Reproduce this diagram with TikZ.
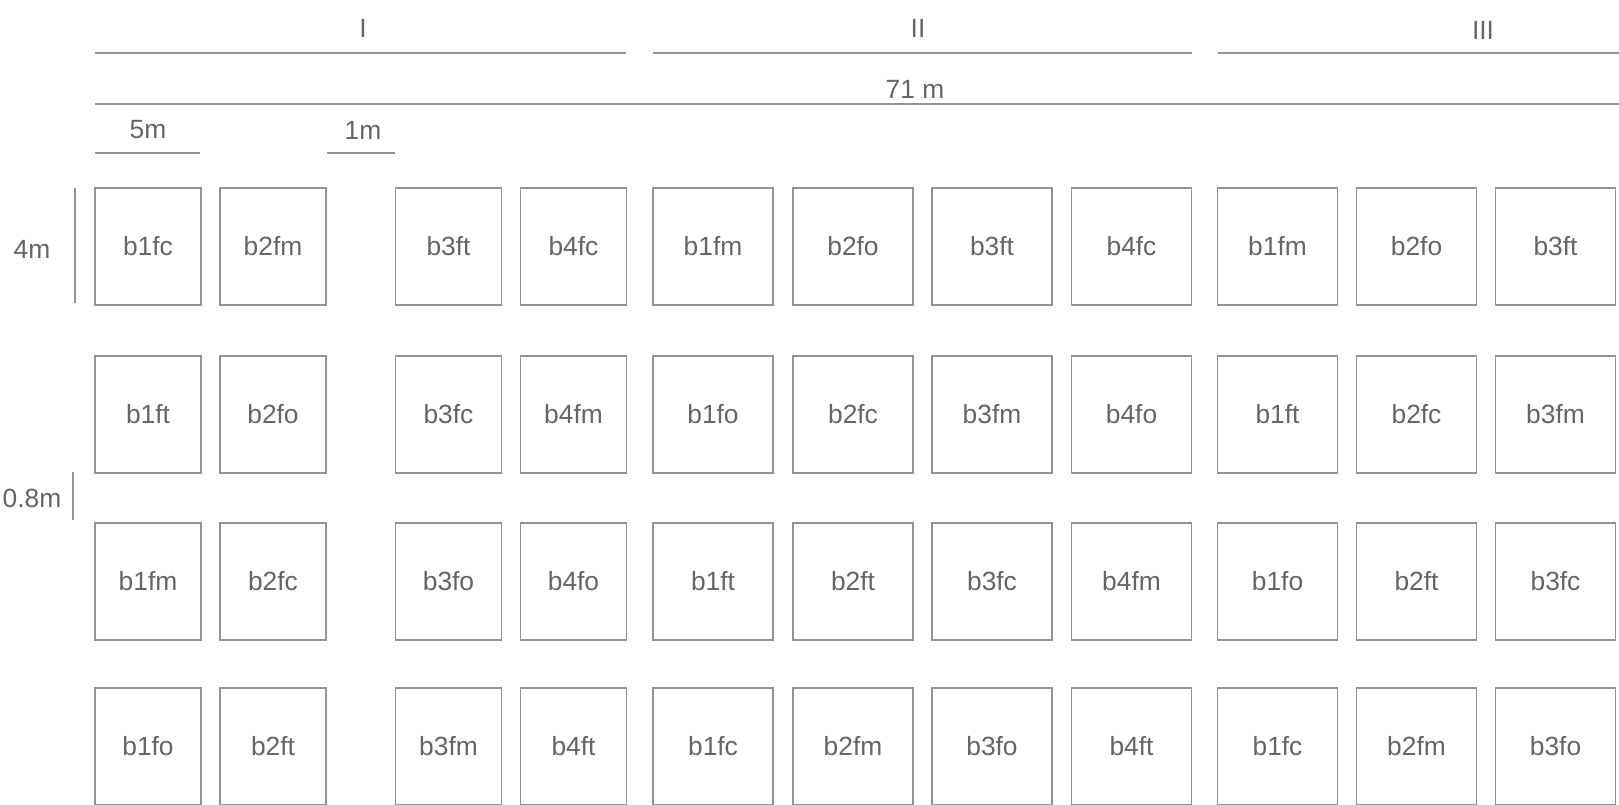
\documentclass[tikz,border=0pt]{standalone}
\usepackage{fontspec}
\setmainfont{Liberation Sans}
\usepackage{xcolor}
\usepackage{tikz}
\definecolor{plotgrey}{HTML}{939393}
\definecolor{labelgrey}{HTML}{656565}

\tikzset{
  plot/.style={draw=plotgrey, line width=0.3pt, minimum height=1.17cm, inner sep=0pt, text=labelgrey},
  mass/.style={text=labelgrey, inner sep=1pt}
}

\begin{document}
\begin{tikzpicture}[font=\fontsize{7.5}{9}\selectfont, line width=0.3pt]
  \useasboundingbox (0,0) rectangle (16.19,-8.04);

  % Bloecke I, II, III
  \draw[plotgrey] (0.95,-0.53) -- (6.26,-0.53);
  \draw[plotgrey] (6.53,-0.53) -- (11.92,-0.53);
  \draw[plotgrey] (12.18,-0.53) -- (16.19,-0.53);
  \node[mass] (blockI) at (3.63,-0.28) {I};
  \node[mass] (blockII) at (9.18,-0.28) {II};
  \node[mass] (blockIII) at (14.83,-0.30) {III};

  % Gesamtlaenge
  \draw[plotgrey] (0.95,-1.04) -- (16.19,-1.04);
  \node[mass] (total) at (9.15,-0.89) {71 m};

  % Parzellenbreite und Abstand
  \node[mass] (breite) at (1.48,-1.30) {5m};
  \draw[plotgrey] (0.95,-1.53) -- (2.00,-1.53);
  \node[mass] (abstand) at (3.63,-1.30) {1m};
  \draw[plotgrey] (3.27,-1.53) -- (3.95,-1.53);

  % Parzellenlaenge und Weg
  \draw[plotgrey] (0.75,-1.88) -- (0.75,-3.03);
  \node[mass] (laenge) at (0.32,-2.49) {4m};
  \draw[plotgrey] (0.73,-4.72) -- (0.73,-5.20);
  \node[mass] (weg) at (0.32,-4.98) {0.8m};

  % Spalten und Reihen
  \foreach \i/\cx in {1/1.48, 2/2.73, 3/4.485, 4/5.735, 5/7.13, 6/8.53,
                      7/9.92, 8/11.315, 9/12.775, 10/14.165, 11/15.555}
    \coordinate (c\i) at (\cx,0);
  \foreach \r/\cy in {1/-2.465, 2/-4.145, 3/-5.815, 4/-7.465}
    \coordinate (r\r) at (0,\cy);

  % Parzellen, Reihe 1
  \foreach \i/\t in {1/b1fc, 2/b2fm, 3/b3ft, 4/b4fc, 5/b1fm, 6/b2fo,
                     7/b3ft, 8/b4fc, 9/b1fm, 10/b2fo, 11/b3ft} {
    \pgfmathsetmacro\w{\i<5 ? 1.06 : 1.2}
    \node[plot, minimum width=\w cm] (p1-\i) at (c\i |- r1) {\t};
  }
  % Reihe 2
  \foreach \i/\t in {1/b1ft, 2/b2fo, 3/b3fc, 4/b4fm, 5/b1fo, 6/b2fc,
                     7/b3fm, 8/b4fo, 9/b1ft, 10/b2fc, 11/b3fm} {
    \pgfmathsetmacro\w{\i<5 ? 1.06 : 1.2}
    \node[plot, minimum width=\w cm] (p2-\i) at (c\i |- r2) {\t};
  }
  % Reihe 3
  \foreach \i/\t in {1/b1fm, 2/b2fc, 3/b3fo, 4/b4fo, 5/b1ft, 6/b2ft,
                     7/b3fc, 8/b4fm, 9/b1fo, 10/b2ft, 11/b3fc} {
    \pgfmathsetmacro\w{\i<5 ? 1.06 : 1.2}
    \node[plot, minimum width=\w cm] (p3-\i) at (c\i |- r3) {\t};
  }
  % Reihe 4
  \foreach \i/\t in {1/b1fo, 2/b2ft, 3/b3fm, 4/b4ft, 5/b1fc, 6/b2fm,
                     7/b3fo, 8/b4ft, 9/b1fc, 10/b2fm, 11/b3fo} {
    \pgfmathsetmacro\w{\i<5 ? 1.06 : 1.2}
    \node[plot, minimum width=\w cm] (p4-\i) at (c\i |- r4) {\t};
  }
\end{tikzpicture}
\end{document}
